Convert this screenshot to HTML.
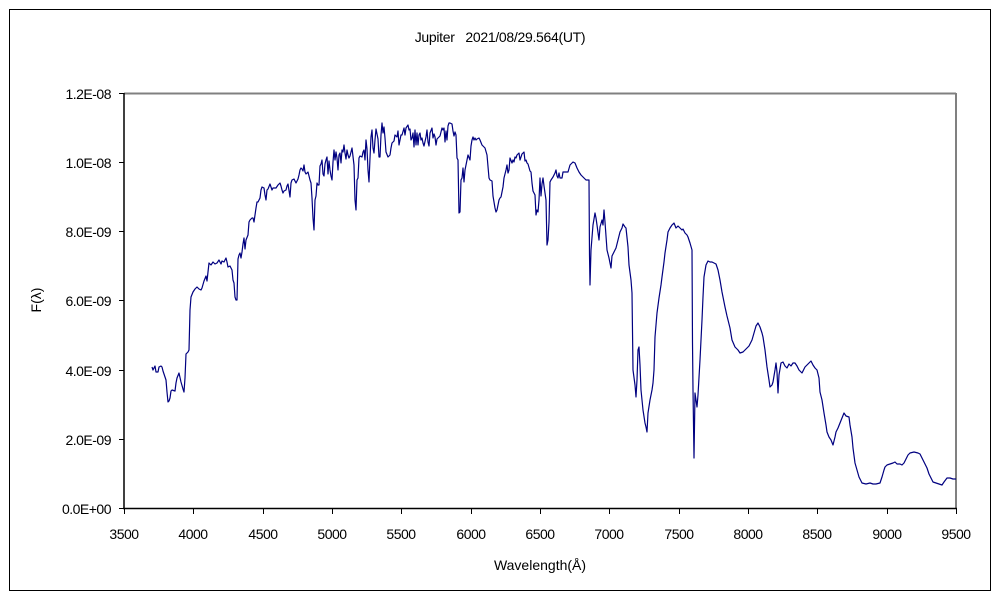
<!DOCTYPE html>
<html><head><meta charset="utf-8"><style>
html,body{margin:0;padding:0;background:#fff;}
svg{display:block;}
text{font-family:"Liberation Sans","Noto Sans CJK JP",sans-serif;font-size:14px;fill:#000;}
</style></head><body>
<svg width="1000" height="600" viewBox="0 0 1000 600" xmlns="http://www.w3.org/2000/svg">
<rect x="9.5" y="9.5" width="981" height="581" fill="#fff" stroke="#000" stroke-width="1"/>
<text x="500" y="42" text-anchor="middle" style="letter-spacing:-0.3px">Jupiter&#160;&#160;&#160;2021/08/29.564(UT)</text>
<line x1="124" y1="93.5" x2="956" y2="93.5" stroke="#808080" stroke-width="2"/>
<line x1="956" y1="93" x2="956" y2="508" stroke="#808080" stroke-width="2"/>
<line x1="124" y1="93" x2="124" y2="509" stroke="#000" stroke-width="1.5"/>
<line x1="123" y1="508.5" x2="957" y2="508.5" stroke="#000" stroke-width="1.5"/>
<g stroke="#000" stroke-width="1">
<line x1="119" y1="93.5" x2="124" y2="93.5"/><line x1="119" y1="162.5" x2="124" y2="162.5"/>
<line x1="119" y1="231.5" x2="124" y2="231.5"/><line x1="119" y1="300.5" x2="124" y2="300.5"/>
<line x1="119" y1="370.5" x2="124" y2="370.5"/><line x1="119" y1="439.5" x2="124" y2="439.5"/>
<line x1="119" y1="508.5" x2="124" y2="508.5"/>
<line x1="124.5" y1="508" x2="124.5" y2="514"/><line x1="193.5" y1="508" x2="193.5" y2="514"/>
<line x1="263.5" y1="508" x2="263.5" y2="514"/><line x1="332.5" y1="508" x2="332.5" y2="514"/>
<line x1="401.5" y1="508" x2="401.5" y2="514"/><line x1="471.5" y1="508" x2="471.5" y2="514"/>
<line x1="540.5" y1="508" x2="540.5" y2="514"/><line x1="609.5" y1="508" x2="609.5" y2="514"/>
<line x1="679.5" y1="508" x2="679.5" y2="514"/><line x1="748.5" y1="508" x2="748.5" y2="514"/>
<line x1="817.5" y1="508" x2="817.5" y2="514"/><line x1="887.5" y1="508" x2="887.5" y2="514"/>
<line x1="956.5" y1="508" x2="956.5" y2="514"/>
</g>
<g text-anchor="end" style="letter-spacing:-0.5px">
<text x="111" y="99">1.2E-08</text><text x="111" y="168">1.0E-08</text>
<text x="111" y="237">8.0E-09</text><text x="111" y="306">6.0E-09</text>
<text x="111" y="376">4.0E-09</text><text x="111" y="445">2.0E-09</text>
<text x="111" y="514">0.0E+00</text>
</g>
<g text-anchor="middle" style="letter-spacing:-0.5px">
<text x="124" y="539">3500</text><text x="193" y="539">4000</text><text x="263" y="539">4500</text>
<text x="332" y="539">5000</text><text x="401" y="539">5500</text><text x="471" y="539">6000</text>
<text x="540" y="539">6500</text><text x="609" y="539">7000</text><text x="679" y="539">7500</text>
<text x="748" y="539">8000</text><text x="817" y="539">8500</text><text x="887" y="539">9000</text>
<text x="956" y="539">9500</text>
</g>
<text x="540" y="570" text-anchor="middle">Wavelength(Å)</text>
<text transform="translate(41,300) rotate(-90)" text-anchor="middle">F(λ)</text>
<polyline fill="none" stroke="#000080" stroke-width="1.2" stroke-linejoin="round" points="152,367 153,370 155,366 156,372 158,372 159,367 161,366 162,367 163,371 164,374 165,377 166,380 167,392 168,402 169,401 170,398 171,391 172,390 175,391 176,383 177,378 179,373 181,382 183,389 184,392 185,378 186,354 188,352 189,350 190,310 191,297 193,292 195,289 197,287 199,289 201,290 202,288 204,281 206,276 207,281 208,272 209,263 211,265 213,262 215,264 217,263 219,260 221,264 222,261 224,262 226,258 227,262 228,267 230,266 232,270 233,280 234,283 235,297 236,300 237,300 238,259 239,255 240,253 241,258 242,252 243,244 244,238 245,249 246,240 248,235 249,222 250,220 252,218 253,218 254,222 256,208 257,202 258,202 260,198 261,190 262,187 264,188 265,195 266,200 267,190 268,189 270,184 272,190 273,188 275,188 276,188 278,185 279,184 280,183 281,186 282,190 283,193 284,191 286,190 287,186 288,184 290,197 291,183 292,180 294,179 296,183 297,181 298,179 299,175 300,170 301,168 302,169 303,171 304,165 305,172 306,174 308,172 309,176 310,180 311,183 312,198 313,218 314,230 315,200 316,196 317,183 318,185 319,185 320,166 321,164 322,160 323,174 324,176 325,164 326,160 327,157 328,174 329,161 330,170 331,176 332,180 333,162 334,150 335,160 336,152 337,158 338,170 339,155 340,153 341,163 342,150 343,152 344,145 345,153 346,159 347,150 348,155 349,158 350,156 352,148 354,165 355,200 356,210 357,180 358,178 359,158 360,156 362,157 363,152 364,150 365,160 366,140 367,149 368,170 369,182 370,158 371,137 372,130 373,148 374,153 375,140 376,129 378,139 379,157 380,157 381,135 382,123 383,133 384,127 385,138 386,152 388,157 390,155 391,148 392,143 394,141 395,135 397,137 398,131 399,145 400,140 401,135 402,135 404,128 405,135 406,128 408,125 409,130 410,129 411,140 412,138 413,133 414,147 415,130 416,145 417,133 418,145 419,135 420,133 421,140 422,138 423,143 424,146 426,137 427,130 428,142 429,146 430,133 432,128 433,138 434,134 435,137 436,145 437,139 438,138 440,136 442,128 443,130 444,128 445,142 446,131 447,140 448,126 449,123 450,123 452,124 453,131 454,136 455,132 456,135 457,158 458,160 459,213 460,212 461,180 462,178 463,168 464,182 465,170 466,165 467,160 468,155 470,160 471,146 472,140 473,137 474,140 475,138 476,140 477,139 479,138 480,140 482,145 484,147 485,148 487,155 489,178 490,180 492,181 493,196 494,202 495,208 496,212 497,210 499,200 500,198 501,197 503,187 504,178 505,174 506,170 507,165 508,173 509,170 510,158 512,163 513,160 514,162 515,157 516,158 517,155 519,153 520,160 521,157 522,154 524,152 525,161 526,160 527,163 528,164 530,171 531,172 532,183 533,191 535,195 536,215 537,210 538,212 539,200 540,178 541,196 542,184 543,178 544,186 546,200 547,245 548,240 549,222 550,182 551,180 553,177 555,173 556,170 557,176 558,178 559,173 560,178 562,178 563,172 565,172 568,172 570,165 571,164 573,162 575,163 577,168 579,172 581,175 583,177 586,180 588,180 589,180 589.5,255 590,285 591,250 593,225 595,213 596,218 597,225 599,240 600,227 602,220 603,225 604,210 605,222 607,250 609,258 611,268 612,256 614,252 616,248 618,240 620,232 622,228 623,224 625,227 626,228 628,247 629,265 631,280 632,293 633,370 635,385 636,397 637,380 638,350 639,347 640,365 641,390 642,400 643,410 645,423 646,427 647,432 648,413 650,400 652,390 653,383 654,370 655,337 656,325 657,313 659,298 661,285 662,277 664,262 665,253 667,240 668,232 670,228 672,225 674,223 676,228 678,226 680,228 682,230 683,229 685,233 687,235 688,237 690,243 692,250 692.5,343 693,390 694,458 695,393 696,400 697,407 698,395 700,360 702,320 703,297 704,277 706,265 708,261 710,262 712,262 714,263 716,264 718,270 720,280 722,292 724,302 725,307 727,316 728,320 730,328 732,340 735,347 738,350 740,353 743,352 746,349 749,346 752,340 754,333 756,326 758,323 760,327 762,333 763,337 765,350 767,367 769,380 770,387 772,385 773,382 775,370 776,363 777,372 778,393 779,375 781,363 783,362 785,366 787,368 789,364 791,366 793,363 795,363 797,366 799,370 802,373 803,371 805,367 808,364 811,361 813,365 815,368 817,370 819,378 820,392 822,400 824,413 826,425 827,432 829,437 831,440 833,445 835,437 836,432 838,428 840,423 842,418 844,413 846,416 849,417 850,425 852,437 853,448 855,463 857,470 859,477 862,483 866,484 870,483 873,484 876,484 880,483 882,477 884,470 885,467 887,465 890,464 893,463 895,462 897,464 900,464 902,465 904,463 906,459 908,455 910,453 914,452 918,453 920,454 922,458 924,462 927,468 929,474 931,478 933,482 936,483 939,484 942,485 944,482 947,478 950,478 953,479 956,479"/>
</svg>
</body></html>
